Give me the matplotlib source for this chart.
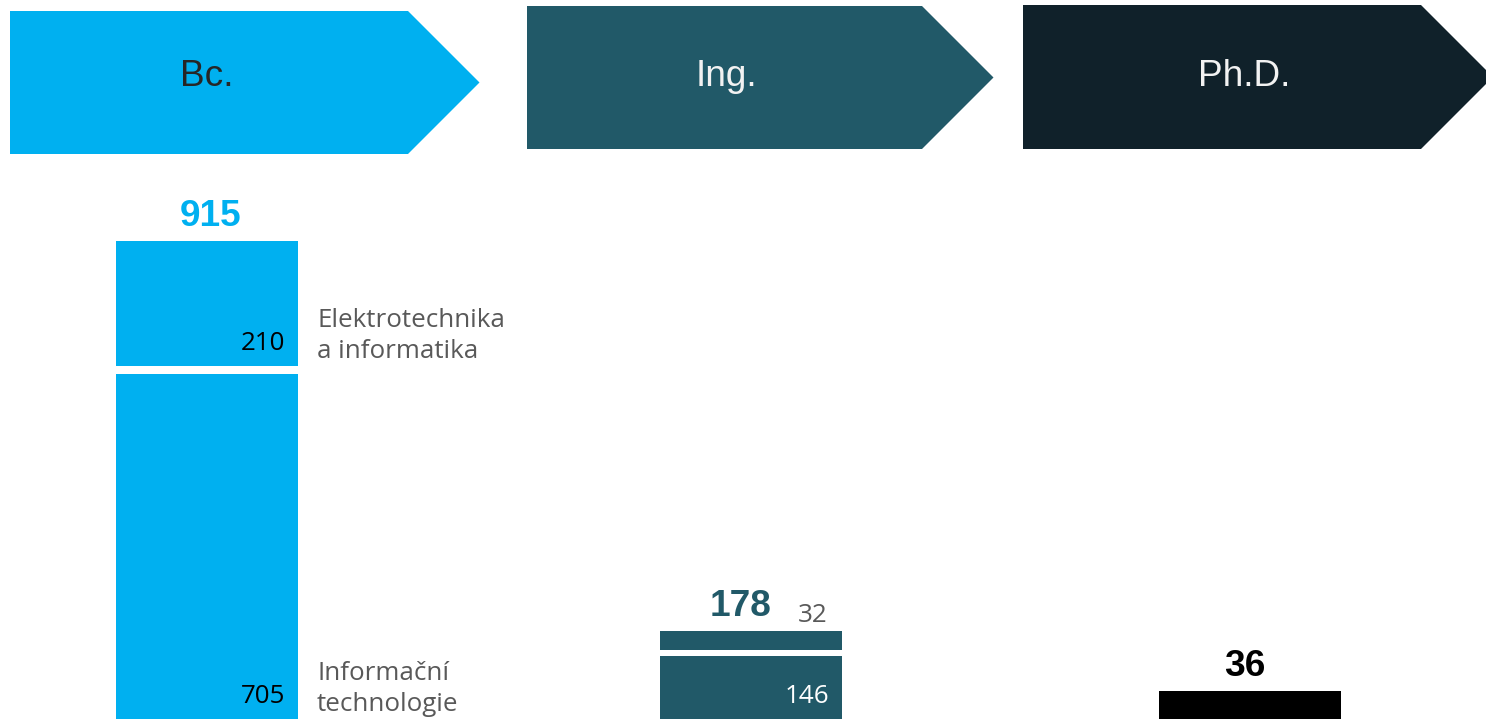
import matplotlib
matplotlib.use("Agg")
import matplotlib.pyplot as plt
from matplotlib.patches import Polygon

# ---------------- data ----------------
levels = ["Bc.", "Ing.", "Ph.D."]
programs = ["Informační\ntechnologie", "Elektrotechnika\na informatika"]  # bottom -> top
bc_values = [705, 210]
ing_values = [146, 32]
phd_values = [36]
totals = [915, 178, 36]

# ---------------- style / layout ----------------
W, H = 1486, 719
DPI = 72
level_colors = ["#00B0F0", "#215968", "#10212A"]
bar_colors = ["#00B0F0", "#215968", "#000000"]
header_text_colors = ["#262626", "#F2F2F2", "#F2F2F2"]
total_colors = ["#00B0F0", "#215968", "#000000"]
inner_colors = ["#000000", "#FFFFFF", "#FFFFFF"]
gray = "#595959"

arrows = [(10, 408, 11, 154), (527, 922, 6, 149), (1023, 1421, 5, 149)]
header_text_pos = [(207, 76), (726, 76), (1244, 76)]
bar_left = [116, 660, 1159]
bar_w = 182
top_px = [241, 631, 691]
scale = [0.595, 0.595, 0.778]
gap_px = [8, 6, 0]
total_dx = [4, -10, -5]
panel_top = 170

fig = plt.figure(figsize=(W / DPI, H / DPI), dpi=DPI)
fig.patch.set_facecolor("white")

bg = fig.add_axes([0, 0, 1, 1])
bg.set_xlim(0, W)
bg.set_ylim(H, 0)
bg.axis("off")

for (l, r, t, b), c, name, tc, (tx, ty) in zip(arrows, level_colors, levels,
                                               header_text_colors, header_text_pos):
    h = b - t
    poly = Polygon([(l, t), (r, t), (r + h / 2, (t + b) / 2), (r, b), (l, b)],
                   closed=True, facecolor=c, edgecolor="none")
    bg.add_patch(poly)
    bg.text(tx, ty, name, ha="center", va="center", color=tc,
            fontsize=37, family="Liberation Sans")

series = [bc_values, ing_values, phd_values]
for i, vals in enumerate(series):
    s = scale[i]
    gap = gap_px[i] / s if len(vals) > 1 else 0
    ax = fig.add_axes([bar_left[i] / W, 0, bar_w / W, (H - panel_top) / H])
    bottoms = []
    cur = 0
    for v in vals:
        bottoms.append(cur)
        cur += v + gap
    top_val = cur - gap
    ax.bar([0] * len(vals), vals, bottom=bottoms, width=1, align="edge",
           color=bar_colors[i], linewidth=0)
    ax.set_xlim(0, 1)
    ylo = top_val - (H - top_px[i]) / s
    ax.set_ylim(ylo, top_val + (top_px[i] - panel_top) / s)
    ax.axis("off")

    if len(vals) > 1:
        for v, b0 in zip(vals, bottoms):
            if v * s < 40:
                ax.annotate(str(v), xy=(1, top_val), xytext=(-15, 9),
                            textcoords="offset points", ha="right", va="baseline",
                            color=gray, fontsize=26, family="Open Sans",
                            annotation_clip=False)
            else:
                anchor = max(b0, ylo)
                ax.annotate(str(v), xy=(1, anchor), xytext=(-13, 16),
                            textcoords="offset points", ha="right", va="baseline",
                            color=inner_colors[i], fontsize=26, family="Open Sans",
                            annotation_clip=False)
    if i == 0:
        for lab, b0 in zip(programs, bottoms):
            anchor = max(b0, ylo)
            ax.annotate(lab, xy=(1, anchor), xytext=(19, 30),
                        textcoords="offset points", ha="left", va="center",
                        color=gray, fontsize=26, family="Open Sans",
                        linespacing=1.33, annotation_clip=False)

    ax.annotate(str(totals[i]), xy=(0.5, top_val),
                xytext=(total_dx[i], 15), textcoords="offset points",
                ha="center", va="baseline", color=total_colors[i],
                fontsize=37, fontweight="bold", family="Liberation Sans",
                annotation_clip=False)

fig.savefig("out.png", dpi=DPI, facecolor="white")
